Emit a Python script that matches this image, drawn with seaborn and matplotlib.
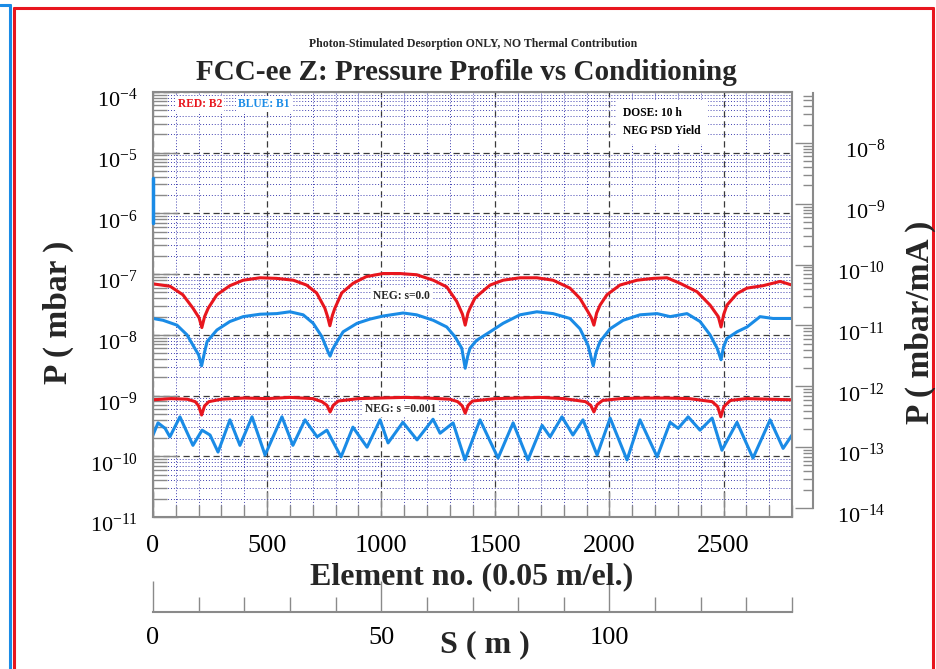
import numpy as np
import pandas as pd
import seaborn as sns
import matplotlib
matplotlib.use("Agg")
import matplotlib.pyplot as plt
import matplotlib.transforms as mtransforms
from matplotlib.ticker import LogLocator, MultipleLocator, NullFormatter, FixedLocator
from matplotlib.lines import Line2D

# ---------------- data ----------------
# element number (0.05 m per element) and log10 of pressure (mbar)
red_s0_el = [0, 75, 131, 175, 202, 214, 226, 242, 280, 337, 395, 469, 542, 615, 673, 717, 753, 765, 775, 786,
             797, 827, 877, 935, 1008, 1082, 1155, 1228, 1287, 1331, 1356, 1368, 1380, 1389, 1410, 1433, 1477,
             1534, 1608, 1682, 1753, 1827, 1871, 1906, 1921, 1932, 1944, 1959, 1989, 2046, 2121, 2191, 2252,
             2309, 2384, 2441, 2477, 2489, 2501, 2515, 2559, 2603, 2673, 2748, 2800]
red_s0_log = [-7.16, -7.20, -7.34, -7.56, -7.72, -7.88, -7.70, -7.56, -7.34, -7.19, -7.10, -7.06, -7.07, -7.10,
              -7.18, -7.31, -7.56, -7.70, -7.85, -7.68, -7.56, -7.31, -7.15, -7.04, -6.99, -6.99, -7.01, -7.10,
              -7.21, -7.45, -7.66, -7.84, -7.64, -7.56, -7.40, -7.32, -7.18, -7.10, -7.06, -7.06, -7.10, -7.23,
              -7.40, -7.62, -7.72, -7.84, -7.64, -7.51, -7.34, -7.18, -7.10, -7.07, -7.06, -7.15, -7.29, -7.51,
              -7.70, -7.87, -7.66, -7.51, -7.32, -7.23, -7.19, -7.12, -7.18]

blue_s0_el = [0, 44, 105, 149, 175, 200, 213, 225, 237, 280, 337, 395, 469, 542, 600, 658, 702, 740, 767, 776,
              786, 797, 833, 894, 951, 1008, 1096, 1155, 1228, 1287, 1323, 1353, 1368, 1379, 1389, 1418, 1477,
              1534, 1608, 1682, 1753, 1827, 1871, 1906, 1929, 1942, 1959, 2003, 2060, 2134, 2209, 2266, 2340,
              2397, 2441, 2472, 2489, 2500, 2515, 2559, 2603, 2660, 2717, 2800]
blue_s0_log = [-7.73, -7.76, -7.84, -8.00, -8.17, -8.33, -8.51, -8.30, -8.11, -7.92, -7.78, -7.70, -7.66, -7.65,
               -7.62, -7.67, -7.81, -8.03, -8.28, -8.35, -8.25, -8.17, -7.95, -7.81, -7.74, -7.69, -7.64, -7.67,
               -7.76, -7.87, -8.03, -8.22, -8.55, -8.35, -8.22, -8.09, -7.95, -7.81, -7.67, -7.62, -7.65, -7.73,
               -7.90, -8.17, -8.51, -8.28, -8.11, -7.90, -7.76, -7.67, -7.65, -7.70, -7.65, -7.78, -8.00, -8.22,
               -8.41, -8.20, -8.06, -7.95, -7.87, -7.70, -7.73, -7.73]

red_s1_el = [0, 80, 150, 185, 200, 213, 226, 245, 300, 400, 500, 600, 700, 740, 762, 776, 790, 812, 900, 1000,
             1100, 1200, 1300, 1335, 1355, 1368, 1381, 1400, 1500, 1600, 1700, 1800, 1895, 1918, 1932, 1946,
             1970, 2050, 2150, 2250, 2350, 2450, 2474, 2488, 2502, 2530, 2600, 2700, 2800]
red_s1_log = [-9.07, -9.05, -9.06, -9.10, -9.17, -9.32, -9.17, -9.10, -9.06, -9.04, -9.05, -9.03, -9.05, -9.10,
              -9.16, -9.27, -9.16, -9.09, -9.05, -9.04, -9.03, -9.04, -9.06, -9.10, -9.17, -9.29, -9.16, -9.09,
              -9.05, -9.04, -9.03, -9.05, -9.10, -9.16, -9.27, -9.15, -9.08, -9.05, -9.04, -9.04, -9.05, -9.10,
              -9.18, -9.35, -9.18, -9.08, -9.05, -9.06, -9.07]

blue_s1_el = [0, 22, 53, 74, 118, 175, 215, 250, 285, 337, 381, 434, 491, 565, 613, 666, 719, 762, 824, 876,
              938, 995, 1030, 1095, 1157, 1227, 1258, 1315, 1367, 1433, 1512, 1578, 1643, 1705, 1740, 1792,
              1840, 1884, 1946, 2003, 2077, 2134, 2209, 2266, 2301, 2345, 2397, 2450, 2493, 2559, 2629, 2704,
              2761, 2800]
blue_s1_log = [-9.65, -9.45, -9.54, -9.68, -9.35, -9.82, -9.57, -9.65, -9.93, -9.40, -9.82, -9.35, -9.98, -9.35,
               -9.82, -9.40, -9.68, -9.57, -10.01, -9.52, -9.85, -9.40, -9.78, -9.44, -9.73, -9.39, -9.62, -9.45,
               -10.06, -9.40, -10.03, -9.45, -10.06, -9.49, -9.68, -9.35, -9.65, -9.40, -9.98, -9.37, -10.06,
               -9.40, -10.01, -9.44, -9.54, -9.35, -9.57, -9.37, -9.90, -9.44, -10.03, -9.40, -9.87, -9.65]

# short blue segment drawn at element 0
spike_el = [0, 0]
spike_log = [-5.42, -6.16]

series_names = ["B2 s=0.0", "B1 s=0.0", "B2 s=0.001", "B1 s=0.001"]
RED = "#e8161e"
BLUE = "#1a8be6"

# ---------------- figure ----------------
sns.set_theme(style="white")
plt.rcParams["font.family"] = ["Liberation Serif", "DejaVu Serif"]
plt.rcParams["mathtext.fontset"] = "custom"
plt.rcParams["mathtext.rm"] = "Liberation Serif"
plt.rcParams["mathtext.it"] = "Liberation Serif:italic"
plt.rcParams["mathtext.bf"] = "Liberation Serif:bold"

W, H = 936, 669
fig = plt.figure(figsize=(W / 100, H / 100), dpi=100)
fig.patch.set_facecolor("white")


def fx(px):
    return px / W


def fy(py):
    return 1 - py / H


ax = fig.add_axes([fx(153), fy(517), fx(792) - fx(153), fy(92) - fy(517)])

frames = []
for name, el, lg in zip(series_names,
                        [red_s0_el, blue_s0_el, red_s1_el, blue_s1_el],
                        [red_s0_log, blue_s0_log, red_s1_log, blue_s1_log]):
    frames.append(pd.DataFrame({"element": el, "P": np.power(10.0, lg), "series": name}))
df = pd.concat(frames, ignore_index=True)
palette = {"B2 s=0.0": RED, "B1 s=0.0": BLUE, "B2 s=0.001": RED, "B1 s=0.001": BLUE}

ax.set_yscale("log")
sns.lineplot(data=df, x="element", y="P", hue="series", hue_order=series_names, palette=palette,
             estimator=None, sort=False, linewidth=2.2, legend=False, ax=ax)
for ln in ax.lines:
    ln.set_solid_joinstyle("round")
ax.plot(spike_el, np.power(10.0, spike_log), color=BLUE, lw=2.5, clip_on=False, zorder=5)

ax.set_xlim(0, 2800)
ax.set_ylim(1e-11, 1e-4)
ax.set_xlabel("")
ax.set_ylabel("")

GRAY = "#8a8a8a"
for s in ax.spines.values():
    s.set_color(GRAY)
    s.set_linewidth(1.5)

ax.yaxis.set_major_locator(LogLocator(base=10, numticks=20))
ax.yaxis.set_minor_locator(LogLocator(base=10, subs=np.arange(2, 10), numticks=20))
ax.yaxis.set_minor_formatter(NullFormatter())
ax.xaxis.set_major_locator(MultipleLocator(500))
ax.xaxis.set_minor_locator(MultipleLocator(100))

ax.set_axisbelow(True)
ax.grid(which="major", linestyle=(0, (5, 3)), color="#3a3a3a", linewidth=0.9)
ax.grid(which="minor", linestyle=(0, (1, 2)), color="#4040b0", linewidth=0.7)

ax.tick_params(axis="y", which="both", direction="in", left=True, right=False, colors=GRAY,
               labelcolor="black", labelsize=16, pad=11)
ax.tick_params(axis="y", which="major", length=18, width=1)
ax.tick_params(axis="y", which="minor", length=10, width=1)
ax.tick_params(axis="x", which="both", direction="in", bottom=True, top=False, colors=GRAY,
               labelcolor="black", labelsize=19, pad=13)
ax.tick_params(axis="x", which="major", length=18, width=1)
ax.tick_params(axis="x", which="minor", length=9, width=1)

off_down = mtransforms.ScaledTranslation(0, -6 / 100, fig.dpi_scale_trans)
for lab in ax.get_yticklabels():
    lab.set_transform(lab.get_transform() + off_down)

# secondary bottom axis: S (m)
sec = ax.secondary_xaxis(-(612 - 517) / (517 - 92), functions=(lambda e: e * 0.05, lambda s: s / 0.05))
sec.xaxis.set_major_locator(FixedLocator([0, 50, 100]))
sec.xaxis.set_minor_locator(MultipleLocator(10))
sec.spines["bottom"].set_color(GRAY)
sec.spines["bottom"].set_linewidth(1.5)
sec.tick_params(axis="x", which="both", direction="in", colors=GRAY, labelcolor="black",
                labelsize=19, pad=11)
sec.tick_params(axis="x", which="major", length=22, width=1)
sec.tick_params(axis="x", which="minor", length=11, width=1)

# right axis: P (mbar/mA)
ax2 = fig.add_axes([fx(700), fy(508), fx(813) - fx(700), fy(93) - fy(508)])
ax2.set_facecolor("none")
for k in ["left", "top", "bottom"]:
    ax2.spines[k].set_visible(False)
ax2.spines["right"].set_color(GRAY)
ax2.spines["right"].set_linewidth(1.5)
ax2.set_yscale("log")
ax2.set_ylim(1e-14, 10 ** -7.18)
ax2.set_xticks([])
ax2.yaxis.set_major_locator(LogLocator(base=10, numticks=20))
ax2.yaxis.set_minor_locator(LogLocator(base=10, subs=np.arange(2, 10), numticks=20))
ax2.yaxis.set_minor_formatter(NullFormatter())
ax2.yaxis.tick_right()
ax2.tick_params(axis="y", which="both", direction="in", left=False, right=True, colors=GRAY,
                labelcolor="black", labelsize=16, pad=52)
ax2.tick_params(axis="y", which="major", length=13, width=1)
ax2.tick_params(axis="y", which="minor", length=7, width=1)
for lab in ax2.get_yticklabels():
    lab.set_horizontalalignment("right")
    lab.set_transform(lab.get_transform() + off_down)

# ---------------- texts ----------------
fig.text(fx(473), fy(44), "Photon-Stimulated Desorption ONLY, NO Thermal Contribution",
         ha="center", va="center", fontsize=8.5, fontweight="bold")
fig.text(fx(466), fy(73), "FCC-ee Z: Pressure Profile vs Conditioning",
         ha="center", va="center", fontsize=21, fontweight="bold")
fig.text(fx(58), fy(312), "P ( mbar )", rotation=90, ha="center", va="center",
         fontsize=24, fontweight="bold")
fig.text(fx(920), fy(322), "P ( mbar/mA )", rotation=90, ha="center", va="center",
         fontsize=24, fontweight="bold")
fig.text(fx(472), fy(577), "Element no. (0.05 m/el.)", ha="center", va="center",
         fontsize=23, fontweight="bold")
fig.text(fx(485), fy(645), "S ( m )", ha="center", va="center", fontsize=23, fontweight="bold")

box = dict(facecolor="white", edgecolor="none", pad=1.5)
fig.text(fx(178), fy(104), "RED: B2", color=RED, ha="left", va="center", fontsize=8.3,
         fontweight="bold", bbox=box)
fig.text(fx(238), fy(104), "BLUE: B1", color=BLUE, ha="left", va="center", fontsize=8.3,
         fontweight="bold", bbox=box)
fig.text(fx(623), fy(122), "DOSE: 10 h\nNEG PSD Yield", color="black", ha="left", va="center",
         fontsize=8.3, fontweight="bold", linespacing=1.6,
         bbox=dict(facecolor="white", edgecolor="none", pad=5))
fig.text(fx(373), fy(296), "NEG: s=0.0", ha="left", va="center", fontsize=8.3,
         fontweight="bold", bbox=box)
fig.text(fx(365), fy(409), "NEG: s =0.001", ha="left", va="center", fontsize=8.3,
         fontweight="bold", bbox=box)

# outer pad borders
fig.add_artist(Line2D([fx(14), fx(14)], [fy(8), fy(669)], color="#e8161e", lw=2.2))
fig.add_artist(Line2D([fx(14), fx(933)], [fy(8), fy(8)], color="#e8161e", lw=2.2))
fig.add_artist(Line2D([fx(933), fx(933)], [fy(8), fy(669)], color="#e8161e", lw=2.2))
fig.add_artist(Line2D([fx(10), fx(10)], [fy(5), fy(669)], color=BLUE, lw=2.2))
fig.add_artist(Line2D([fx(0), fx(10)], [fy(5), fy(5)], color=BLUE, lw=2.2))

fig.savefig("out.png", dpi=100)
